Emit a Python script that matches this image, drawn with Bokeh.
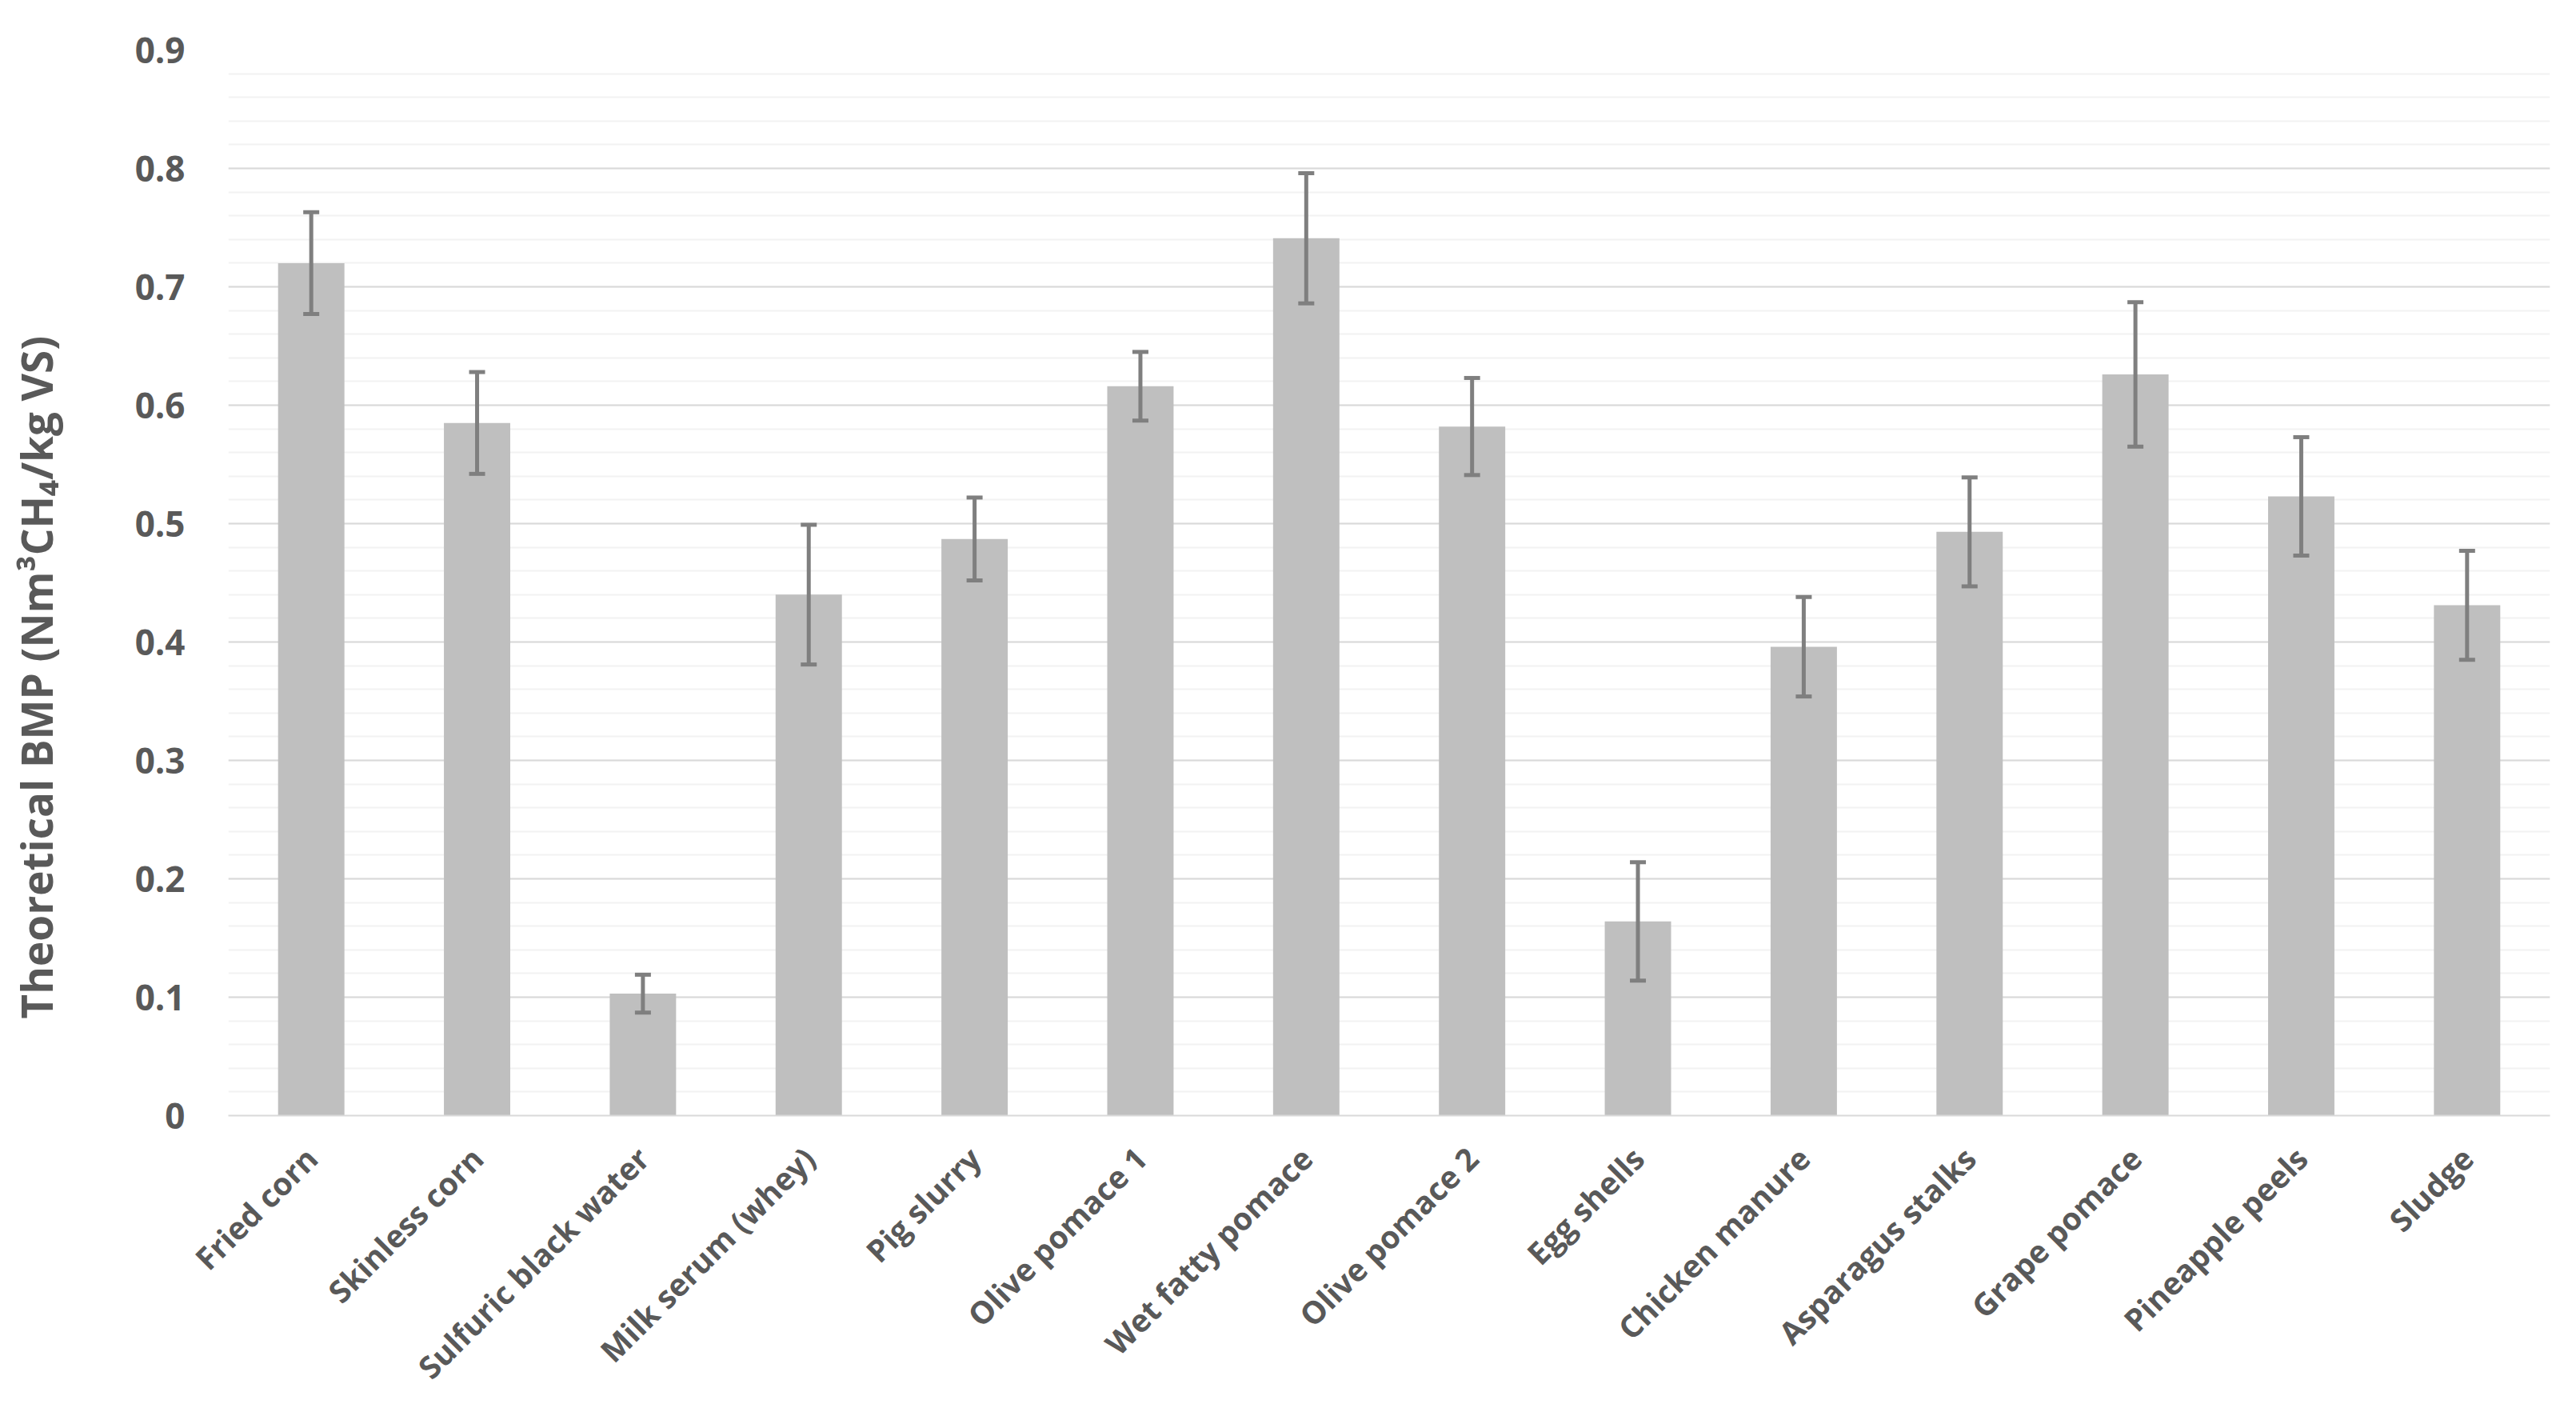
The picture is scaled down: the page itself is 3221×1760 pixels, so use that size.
import math
from bokeh.plotting import figure
from bokeh.models import (ColumnDataSource, FactorRange, Range1d, Whisker, TeeHead,
                          SingleIntervalTicker, NumeralTickFormatter, Title)
from bokeh.embed import file_html
from bokeh.resources import INLINE

categories = ["Fried corn", "Skinless corn", "Sulfuric black water", "Milk serum (whey)",
              "Pig slurry", "Olive pomace 1", "Wet fatty pomace", "Olive pomace 2",
              "Egg shells", "Chicken manure", "Asparagus stalks", "Grape pomace",
              "Pineapple peels", "Sludge"]
bmp = [0.720, 0.585, 0.103, 0.440, 0.487, 0.616, 0.741, 0.582,
       0.164, 0.396, 0.493, 0.626, 0.523, 0.431]
err = [0.043, 0.043, 0.016, 0.059, 0.035, 0.029, 0.055, 0.041,
       0.050, 0.042, 0.046, 0.061, 0.050, 0.046]
y_title = "Theoretical BMP (Nm\u00b3CH\u2084/kg VS)"

TEXT = "#595959"
FONT = "Open Sans"

src = ColumnDataSource(dict(
    cat=categories, val=bmp,
    upper=[v + e for v, e in zip(bmp, err)],
    lower=[v - e for v, e in zip(bmp, err)],
))

W, H = 3221, 1760
p = figure(width=W, height=H, x_range=FactorRange(*categories, range_padding=0),
           y_range=Range1d(0, 0.9), output_backend="svg", toolbar_location=None,
           min_border_left=285, min_border_right=33, min_border_top=62,
           min_border_bottom=366)
p.outline_line_color = None
p.background_fill_color = "white"

p.vbar(x="cat", top="val", width=0.4, source=src, fill_color="#bfbfbf", line_color=None)

wh = Whisker(base="cat", upper="upper", lower="lower", source=src, level="overlay",
             line_color="#7f7f7f", line_width=5,
             upper_head=TeeHead(size=20, line_color="#7f7f7f", line_width=5),
             lower_head=TeeHead(size=20, line_color="#7f7f7f", line_width=5))
p.add_layout(wh)

# y axis
p.yaxis.ticker = SingleIntervalTicker(interval=0.1, num_minor_ticks=5)
p.yaxis.formatter = NumeralTickFormatter(format="0.[0]")
p.yaxis.axis_line_color = None
p.yaxis.major_tick_line_color = None
p.yaxis.minor_tick_line_color = None
p.yaxis.major_tick_out = 0
p.yaxis.major_tick_in = 0
p.yaxis.major_label_standoff = 50
p.yaxis.major_label_text_font = FONT
p.yaxis.major_label_text_font_size = "44px"
p.yaxis.major_label_text_font_style = "bold"
p.yaxis.major_label_text_color = TEXT
# blank spacer label pushes the title panel outward
p.yaxis.axis_label = " "
p.yaxis.axis_label_text_font_size = "1px"
p.yaxis.axis_label_standoff = 80

p.ygrid.ticker = SingleIntervalTicker(interval=0.1, num_minor_ticks=5)
p.ygrid.grid_line_color = "#d9d9d9"
p.ygrid.grid_line_width = 2
p.ygrid.minor_grid_line_color = "#f2f2f2"
p.ygrid.minor_grid_line_width = 2
p.xgrid.grid_line_color = None

# x axis
p.xaxis.axis_line_color = "#d9d9d9"
p.xaxis.axis_line_width = 2
p.xaxis.major_tick_line_color = None
p.xaxis.minor_tick_line_color = None
p.xaxis.major_tick_out = 0
p.xaxis.major_tick_in = 0
p.xaxis.major_label_orientation = math.pi / 4
p.xaxis.major_label_standoff = 46
p.xaxis.major_label_text_font = FONT
p.xaxis.major_label_text_font_size = "39px"
p.xaxis.major_label_text_font_style = "bold"
p.xaxis.major_label_text_color = TEXT

# y-axis title as a left-side title, offset from the frame bottom
t = Title(text=y_title, align="left", offset=121, standoff=0,
          text_font=FONT, text_font_size="53px", text_font_style="bold",
          text_color=TEXT)
p.add_layout(t, "left")

open("out.html", "w").write(file_html(p, INLINE))
